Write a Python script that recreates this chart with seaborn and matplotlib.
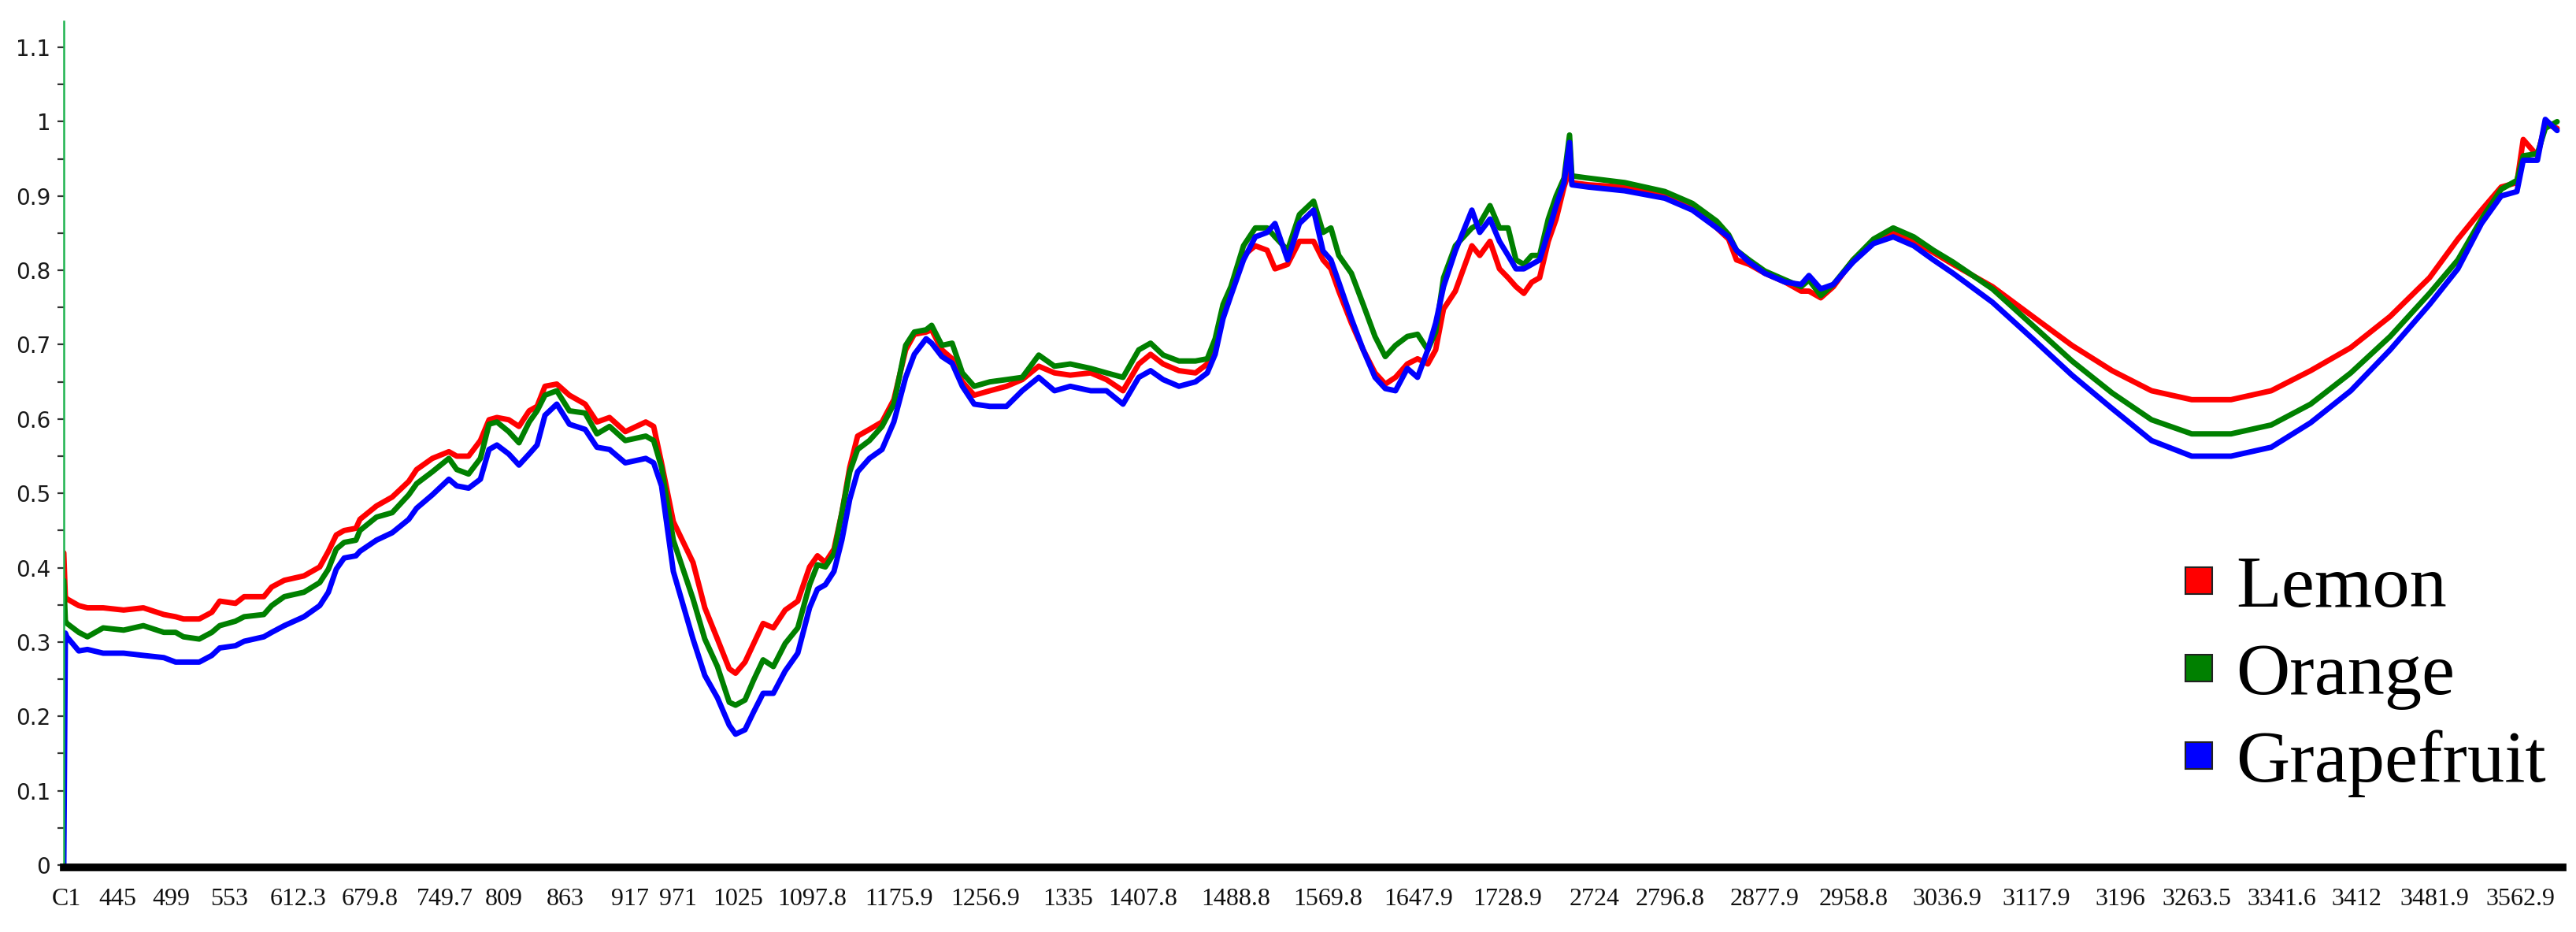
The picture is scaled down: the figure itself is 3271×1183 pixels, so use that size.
import numpy as np
import pandas as pd
import matplotlib
matplotlib.use("Agg")
import matplotlib.pyplot as plt
from matplotlib.lines import Line2D
from matplotlib.ticker import MultipleLocator, FuncFormatter, FixedLocator, FixedFormatter
import seaborn as sns

# ---------------- data ----------------
samples = ["Lemon", "Orange", "Grapefruit"]

# spectral point index (position along the categorical wavenumber axis)
point_index = [
    0, 2, 4, 19, 30, 50, 76, 101, 127, 142, 152, 172, 188, 198, 218, 229, 254, 264,
    280, 305, 325, 336, 346, 356, 371, 376, 397, 417, 438, 448, 468, 489, 499, 514,
    529, 540, 550, 565, 578, 591, 601, 611, 626, 642, 662, 677, 693, 713, 739, 749,
    759, 774, 799, 814, 830, 845, 853, 865, 876, 888, 901, 916, 932, 947, 957, 967,
    978, 988, 998, 1008, 1023, 1039, 1054, 1069, 1080, 1095, 1102, 1115, 1128, 1141,
    1156, 1176, 1197, 1217, 1238, 1258, 1278, 1304, 1324, 1345, 1365, 1380, 1396,
    1416, 1437, 1452, 1462, 1472, 1482, 1498, 1513, 1528, 1538, 1554, 1569, 1587,
    1599, 1609, 1619, 1635, 1650, 1665, 1678, 1691, 1706, 1719, 1732, 1742, 1752,
    1767, 1788, 1798, 1811, 1823, 1834, 1844, 1854, 1864, 1874, 1885, 1895, 1905,
    1912, 1915, 1936, 1982, 2033, 2068, 2099, 2114, 2124, 2140, 2160, 2186, 2206,
    2216, 2231, 2247, 2272, 2298, 2323, 2349, 2374, 2399, 2449, 2500, 2550, 2601,
    2651, 2702, 2752, 2803, 2853, 2904, 2954, 3004, 3040, 3070, 3095, 3115, 3123,
    3141, 3151, 3166,
]

lemon = [
    0.420, 0.360, 0.358, 0.349, 0.346, 0.346, 0.343, 0.346, 0.337, 0.334, 0.331, 0.331,
    0.340, 0.355, 0.352, 0.361, 0.361, 0.374, 0.383, 0.389, 0.401, 0.422, 0.444, 0.450,
    0.453, 0.465, 0.483, 0.495, 0.516, 0.532, 0.547, 0.556, 0.550, 0.550, 0.571, 0.599,
    0.602, 0.599, 0.590, 0.611, 0.617, 0.644, 0.647, 0.632, 0.620, 0.596, 0.602, 0.583,
    0.596, 0.590, 0.541, 0.462, 0.407, 0.346, 0.304, 0.264, 0.258, 0.273, 0.298, 0.325,
    0.319, 0.343, 0.355, 0.401, 0.416, 0.407, 0.425, 0.474, 0.535, 0.577, 0.586, 0.596,
    0.626, 0.693, 0.714, 0.717, 0.720, 0.693, 0.681, 0.650, 0.632, 0.638, 0.644, 0.653,
    0.671, 0.662, 0.659, 0.662, 0.653, 0.638, 0.674, 0.687, 0.674, 0.665, 0.662, 0.674,
    0.699, 0.748, 0.772, 0.820, 0.833, 0.827, 0.802, 0.808, 0.839, 0.839, 0.814, 0.802,
    0.772, 0.729, 0.693, 0.662, 0.647, 0.656, 0.674, 0.681, 0.674, 0.693, 0.748, 0.772,
    0.833, 0.820, 0.839, 0.802, 0.790, 0.778, 0.769, 0.784, 0.790, 0.839, 0.869, 0.912,
    0.936, 0.918, 0.915, 0.912, 0.900, 0.884, 0.857, 0.842, 0.814, 0.808, 0.796, 0.784,
    0.772, 0.772, 0.763, 0.778, 0.814, 0.839, 0.851, 0.839, 0.824, 0.808, 0.778, 0.738,
    0.699, 0.665, 0.638, 0.626, 0.626, 0.638, 0.665, 0.696, 0.738, 0.790, 0.842, 0.881,
    0.912, 0.918, 0.976, 0.954, 0.997, 0.991,
]

orange = [
    0.383, 0.328, 0.325, 0.313, 0.307, 0.319, 0.316, 0.322, 0.313, 0.313, 0.307, 0.304,
    0.313, 0.322, 0.328, 0.334, 0.337, 0.349, 0.361, 0.367, 0.380, 0.398, 0.425, 0.434,
    0.437, 0.450, 0.468, 0.474, 0.498, 0.513, 0.529, 0.547, 0.532, 0.526, 0.547, 0.593,
    0.596, 0.583, 0.568, 0.596, 0.611, 0.632, 0.638, 0.611, 0.608, 0.580, 0.590, 0.571,
    0.577, 0.571, 0.535, 0.437, 0.358, 0.304, 0.267, 0.219, 0.215, 0.222, 0.249, 0.276,
    0.267, 0.298, 0.319, 0.377, 0.404, 0.401, 0.419, 0.474, 0.529, 0.559, 0.571, 0.590,
    0.620, 0.699, 0.717, 0.720, 0.726, 0.699, 0.702, 0.662, 0.644, 0.650, 0.653, 0.656,
    0.686, 0.671, 0.674, 0.668, 0.662, 0.656, 0.693, 0.702, 0.686, 0.678, 0.678, 0.681,
    0.708, 0.754, 0.778, 0.833, 0.857, 0.857, 0.845, 0.827, 0.875, 0.893, 0.851, 0.857,
    0.820, 0.796, 0.754, 0.711, 0.684, 0.699, 0.711, 0.714, 0.693, 0.717, 0.790, 0.833,
    0.857, 0.863, 0.887, 0.857, 0.857, 0.814, 0.808, 0.820, 0.820, 0.869, 0.900, 0.924,
    0.982, 0.927, 0.924, 0.918, 0.906, 0.890, 0.866, 0.848, 0.827, 0.814, 0.799, 0.787,
    0.778, 0.787, 0.766, 0.781, 0.814, 0.842, 0.857, 0.845, 0.827, 0.811, 0.775, 0.726,
    0.678, 0.635, 0.599, 0.580, 0.580, 0.592, 0.620, 0.662, 0.711, 0.769, 0.814, 0.869,
    0.909, 0.921, 0.954, 0.957, 0.991, 1.000,
]

grapefruit = [
    0.000, 0.312, 0.307, 0.288, 0.290, 0.285, 0.285, 0.282, 0.279, 0.273, 0.273, 0.273,
    0.282, 0.292, 0.295, 0.301, 0.307, 0.313, 0.322, 0.334, 0.349, 0.367, 0.398, 0.413,
    0.416, 0.422, 0.437, 0.447, 0.465, 0.480, 0.498, 0.519, 0.510, 0.507, 0.519, 0.559,
    0.565, 0.553, 0.538, 0.553, 0.565, 0.605, 0.620, 0.593, 0.586, 0.562, 0.559, 0.541,
    0.547, 0.541, 0.510, 0.395, 0.304, 0.255, 0.225, 0.188, 0.176, 0.182, 0.206, 0.231,
    0.231, 0.261, 0.285, 0.346, 0.371, 0.377, 0.395, 0.437, 0.492, 0.529, 0.547, 0.559,
    0.596, 0.656, 0.687, 0.708, 0.702, 0.684, 0.675, 0.644, 0.620, 0.617, 0.617, 0.638,
    0.656, 0.638, 0.644, 0.638, 0.638, 0.620, 0.656, 0.665, 0.653, 0.644, 0.650, 0.662,
    0.687, 0.735, 0.766, 0.814, 0.845, 0.851, 0.863, 0.814, 0.863, 0.881, 0.826, 0.814,
    0.784, 0.735, 0.693, 0.656, 0.641, 0.638, 0.668, 0.656, 0.693, 0.729, 0.778, 0.826,
    0.881, 0.851, 0.869, 0.839, 0.820, 0.802, 0.802, 0.808, 0.814, 0.851, 0.887, 0.918,
    0.972, 0.915, 0.912, 0.907, 0.897, 0.881, 0.857, 0.845, 0.827, 0.811, 0.796, 0.784,
    0.781, 0.793, 0.775, 0.781, 0.811, 0.836, 0.845, 0.833, 0.814, 0.796, 0.757, 0.708,
    0.659, 0.614, 0.571, 0.550, 0.550, 0.562, 0.595, 0.638, 0.693, 0.754, 0.802, 0.863,
    0.900, 0.906, 0.948, 0.948, 1.003, 0.988,
]

# wavenumber category labels and the point index where each is shown
tick_labels = ["C1", "445", "499", "553", "612.3", "679.8", "749.7", "809", "863", "917",
               "971", "1025", "1097.8", "1175.9", "1256.9", "1335", "1407.8", "1488.8",
               "1569.8", "1647.9", "1728.9", "2724", "2796.8", "2877.9", "2958.8",
               "3036.9", "3117.9", "3196", "3263.5", "3341.6", "3412", "3481.9", "3562.9"]
tick_index = [3, 68, 136, 210, 298, 389, 484, 559, 637, 719, 780, 856, 950, 1061, 1170,
              1275, 1370, 1488, 1605, 1720, 1833, 1944, 2040, 2160, 2273, 2391, 2505,
              2611, 2708, 2816, 2911, 3010, 3119]

colors = {"Lemon": "#ff0000", "Orange": "#008000", "Grapefruit": "#0000ff"}

# ---------------- build long table ----------------
frames = []
for name, vals in zip(samples, [lemon, orange, grapefruit]):
    frames.append(pd.DataFrame({"idx": point_index, "value": vals, "sample": name}))
df = pd.concat(frames, ignore_index=True)

# ---------------- plot ----------------
sns.set_style("white")
plt.rcParams["font.family"] = ["Liberation Serif", "DejaVu Serif"]

W, H = 3271, 1183
fig = plt.figure(figsize=(W / 100, H / 100), dpi=100)
ax = fig.add_axes([81 / W, 1 - 1098 / H, 3173 / W, (1098 - 27) / H])

sns.lineplot(data=df, x="idx", y="value", hue="sample", hue_order=samples,
             palette=colors, estimator=None, sort=False, linewidth=5,
             legend=False, ax=ax)

ax.set_xlim(0, 3173)
ax.set_ylim(0, 1.135)
ax.set_xlabel("")
ax.set_ylabel("")

# x axis: thick black bar, no tick marks
ax.xaxis.set_major_locator(FixedLocator(tick_index))
ax.xaxis.set_major_formatter(FixedFormatter(tick_labels))
ax.tick_params(axis="x", length=0, pad=19, labelsize=23, labelcolor="#111111")
for lab in ax.get_xticklabels():
    lab.set_family(["Liberation Serif"])

# y axis
ax.yaxis.set_major_locator(MultipleLocator(0.1))
ax.yaxis.set_minor_locator(MultipleLocator(0.05))
ax.yaxis.set_major_formatter(FuncFormatter(lambda v, p: f"{round(v, 2):g}"))
ax.tick_params(axis="y", which="both", direction="out", length=6, width=1.6,
               color="#333333", left=True)
ax.tick_params(axis="y", which="major", pad=6, labelsize=20, labelcolor="#1a1a1a")
for lab in ax.get_yticklabels():
    lab.set_family(["DejaVu Sans"])

for s in ["top", "right"]:
    ax.spines[s].set_visible(False)
ax.spines["left"].set_color("#1db34f")
ax.spines["left"].set_linewidth(1.8)
ax.spines["bottom"].set_color("black")
ax.spines["bottom"].set_linewidth(7)
ax.spines["bottom"].set_position(("outward", 2))
ax.grid(False)

# legend
handles = [Line2D([], [], marker="s", linestyle="none", markersize=24,
                  markerfacecolor=colors[n], markeredgecolor="#222222",
                  markeredgewidth=1.5) for n in samples]
leg = fig.legend(handles, samples, loc="center left",
                 bbox_to_anchor=(2775 / W, 1 - 858 / H), bbox_transform=fig.transFigure,
                 frameon=False, handlelength=0.35, handletextpad=0.33,
                 labelspacing=0.26, borderpad=0, borderaxespad=0,
                 prop={"family": ["Liberation Serif"], "size": 68})
for t in leg.get_texts():
    t.set_color("black")

fig.savefig("out.png", dpi=100, facecolor="white")
